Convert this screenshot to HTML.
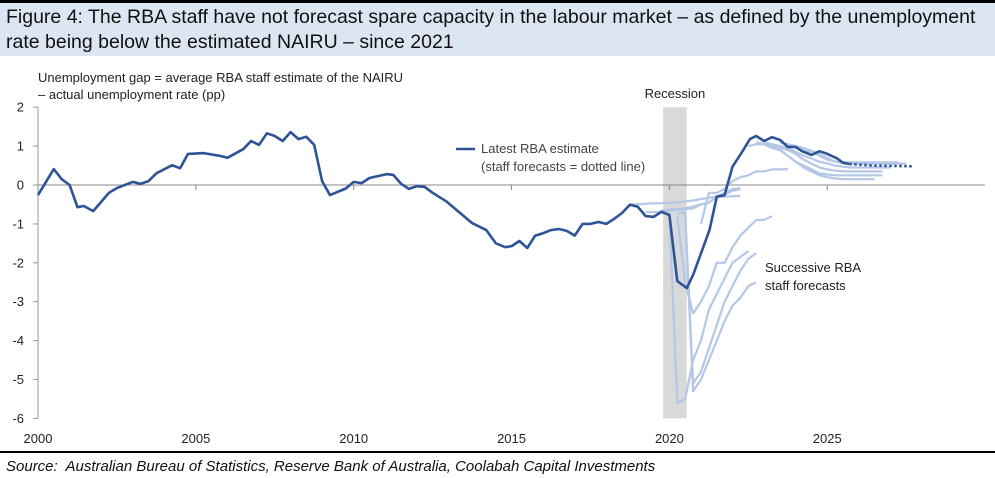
<!DOCTYPE html>
<html><head><meta charset="utf-8"><style>
body{margin:0;width:995px;height:478px;overflow:hidden;background:#fff;font-family:"Liberation Sans",Arial,sans-serif}
#title{position:absolute;left:0;top:0;width:995px;height:56px;background:#dce6f2;border-top:3px solid #000;box-sizing:border-box;font-size:19.5px;line-height:25px;padding:2px 0 0 6px;color:#111;white-space:nowrap}
#src{position:absolute;left:0;top:451px;width:995px;border-top:2px solid #000;font-style:italic;font-size:15px;padding:5px 0 0 6px;color:#111}
svg{position:absolute;left:0;top:0}
</style></head><body>
<div id="title">Figure 4: The RBA staff have not forecast spare capacity in the labour market – as defined by the unemployment<br>rate being below the estimated NAIRU – since 2021</div>
<svg id="chart" width="995" height="451"></svg>
<div id="src">Source:&nbsp; Australian Bureau of Statistics, Reserve Bank of Australia, Coolabah Capital Investments</div>
<script>
const yTicks=[2,1,0,-1,-2,-3,-4,-5,-6];
const xTicks=[2000,2005,2010,2015,2020,2025];
const recession=[2019.8,2020.55];
const latestYears=[2000,2000.5,2000.75,2001,2001.25,2001.45,2001.75,2002.25,2002.5,2003,2003.25,2003.5,2003.75,2004.25,2004.5,2004.75,2005.25,2005.75,2006,2006.5,2006.75,2007,2007.25,2007.5,2007.75,2008,2008.25,2008.5,2008.75,2009,2009.25,2009.75,2010,2010.25,2010.5,2011.05,2011.25,2011.5,2011.75,2012,2012.25,2012.5,2012.95,2013.75,2014.2,2014.5,2014.8,2015,2015.25,2015.5,2015.75,2016,2016.25,2016.5,2016.75,2017,2017.25,2017.5,2017.75,2018,2018.25,2018.5,2018.75,2019,2019.25,2019.5,2019.75,2020,2020.25,2020.55,2020.75,2021.27,2021.5,2021.75,2022,2022.28,2022.55,2022.75,2023,2023.25,2023.5,2023.75,2024,2024.2,2024.5,2024.75,2025,2025.3,2025.5,2025.7];
const latestValues=[-0.26,0.41,0.15,0,-0.57,-0.54,-0.67,-0.2,-0.08,0.08,0.03,0.1,0.3,0.51,0.43,0.8,0.82,0.75,0.7,0.92,1.13,1.03,1.33,1.26,1.13,1.36,1.18,1.24,1.03,0.1,-0.26,-0.09,0.08,0.05,0.18,0.28,0.26,0.03,-0.1,-0.03,-0.05,-0.2,-0.43,-0.98,-1.16,-1.5,-1.6,-1.57,-1.44,-1.62,-1.3,-1.24,-1.16,-1.13,-1.18,-1.3,-1.0,-1.0,-0.95,-1.0,-0.87,-0.72,-0.51,-0.56,-0.8,-0.82,-0.69,-0.77,-2.47,-2.65,-2.31,-1.16,-0.3,-0.26,0.47,0.82,1.18,1.26,1.13,1.23,1.16,0.98,0.98,0.87,0.77,0.87,0.8,0.69,0.57,0.54];
const dottedYears=[2025.7,2026.5,2027.75];
const dottedValues=[0.54,0.5,0.48];
// staff forecasts: start year + quarterly values
const fcStarts=[2018.75,2019.25,2019.75,2020.0,2020.25,2020.5,2020.25,2021.0,2022.5,2022.75,2023.0,2023.25,2023.5,2024.0];
const fcValues=[
[-0.5,-0.5,-0.48,-0.47,-0.47,-0.46,-0.45,-0.42,-0.4,-0.36,-0.33,-0.3,-0.3,-0.29,-0.28],
[-0.7,-0.7,-0.68,-0.66,-0.64,-0.62,-0.6,-0.5,-0.45,-0.3,-0.2,-0.1,-0.08],
[-0.65,-0.63,-0.62,-0.6,-0.55,-0.5,-0.45,-0.3,-0.25,-0.15,-0.1],
[-0.75,-5.6,-5.5,-4.5,-4.0,-3.2,-2.8,-2.4,-2.0,-1.85,-1.7],
[-0.8,-2.5,-3.3,-3.0,-2.6,-2.0,-2.0,-1.6,-1.3,-1.1,-0.9,-0.9,-0.8],
[-0.8,-5.3,-5.0,-4.5,-4.0,-3.5,-3.1,-2.9,-2.6,-2.5],
[-0.75,-0.7,-5.1,-4.8,-4.2,-3.6,-3.0,-2.6,-2.2,-1.9,-1.75],
[-1.0,-0.2,-0.2,-0.1,0.1,0.2,0.25,0.35,0.35,0.4,0.4,0.41],
[1.0,1.05,1.05,0.95,0.9,0.75,0.6,0.45,0.35,0.25,0.2,0.17,0.15,0.15,0.15,0.15,0.15],
[1.1,1.05,1.0,0.9,0.75,0.6,0.5,0.4,0.3,0.27,0.25,0.25,0.25,0.25,0.25,0.25,0.25],
[1.1,1.05,0.95,0.9,0.8,0.65,0.55,0.45,0.4,0.37,0.35,0.35,0.35,0.35,0.35,0.35],
[1.05,1.0,0.95,0.85,0.75,0.68,0.6,0.55,0.5,0.47,0.45,0.45,0.45,0.45,0.45,0.45],
[1.1,1.05,1.0,0.95,0.88,0.8,0.7,0.6,0.57,0.55,0.55,0.55,0.55,0.55,0.55,0.55,0.55],
[0.95,0.9,0.85,0.75,0.65,0.6,0.58,0.58,0.58,0.58,0.58,0.58,0.58,0.58]];

const svg=document.getElementById('chart');
const NS='http://www.w3.org/2000/svg';
const X=y=>38+(y-2000)*31.57;
const Y=v=>185-v*38.9;
function mk(t,a,p){const e=document.createElementNS(NS,t);for(const k in a)e.setAttribute(k,a[k]);(p||svg).appendChild(e);return e;}
const FONT='"Liberation Sans",Arial,sans-serif';
// recession
let r=mk('rect',{x:X(recession[0]),y:Y(2),width:X(recession[1])-X(recession[0]),height:Y(-6)-Y(2),fill:'#d9d9d9'});


let t=mk('text',{x:(X(recession[0])+X(recession[1]))/2,y:98,'text-anchor':'middle','font-size':13,'font-family':FONT,fill:'#222'});t.textContent='Recession';


// y axis
let ya=mk('line',{x1:38,y1:Y(2),x2:38,y2:Y(-6),stroke:'#999','stroke-width':1});


yTicks.forEach(v=>{
 mk('line',{x1:33,x2:38,y1:Y(v),y2:Y(v),stroke:'#999'});
 const l=mk('text',{x:24,y:Y(v)+4.5,'text-anchor':'end','font-size':13,'font-family':FONT,fill:'#222'});l.textContent=v;
 
 
});
// zero axis
let xa=mk('line',{x1:38,y1:Y(0),x2:X(2030),y2:Y(0),stroke:'#888','stroke-width':1});


xTicks.forEach(yr=>{
 mk('line',{x1:X(yr),x2:X(yr),y1:Y(0),y2:Y(0)+5,stroke:'#888'});
 const l=mk('text',{x:X(yr),y:443,'text-anchor':'middle','font-size':13,'font-family':FONT,fill:'#222'});l.textContent=yr;
 
 
});
// axis title
const at=mk('text',{x:38,y:82,'font-size':13,'font-family':FONT,fill:'#222'});
at.innerHTML='<tspan x="38">Unemployment gap = average RBA staff estimate of the NAIRU</tspan><tspan x="38" dy="17">– actual unemployment rate (pp)</tspan>';


// forecasts
fcStarts.forEach((s,i)=>{
 const pts=fcValues[i].map((v,j)=>X(s+j*0.25).toFixed(1)+','+Y(v).toFixed(1)).join(' ');
 const p=mk('polyline',{points:pts,fill:'none',stroke:'#b4c7e7','stroke-width':2.2,'stroke-linejoin':'round'});
 
 
});
// latest
const lp=mk('polyline',{points:latestYears.map((y,i)=>X(y).toFixed(1)+','+Y(latestValues[i]).toFixed(1)).join(' '),fill:'none',stroke:'#2f5496','stroke-width':2.6,'stroke-linejoin':'round'});


const dp=mk('polyline',{points:dottedYears.map((y,i)=>X(y).toFixed(1)+','+Y(dottedValues[i]).toFixed(1)).join(' '),fill:'none',stroke:'#2f5496','stroke-width':2.6,'stroke-dasharray':'2.5,2.5'});


// legend
const lg=mk('g',{});


mk('line',{x1:456,x2:475,y1:149,y2:149,stroke:'#2f5496','stroke-width':2.6},lg);
const lt=mk('text',{x:481,y:153,'font-size':13,'font-family':FONT,fill:'#444'},lg);
lt.innerHTML='<tspan x="481">Latest RBA estimate</tspan><tspan x="481" dy="18">(staff forecasts = dotted line)</tspan>';
const st=mk('text',{x:765,y:272,'font-size':13,'font-family':FONT,fill:'#222'});
st.innerHTML='<tspan x="765">Successive RBA</tspan><tspan x="765" dy="18">staff forecasts</tspan>';


</script>
</body></html>
